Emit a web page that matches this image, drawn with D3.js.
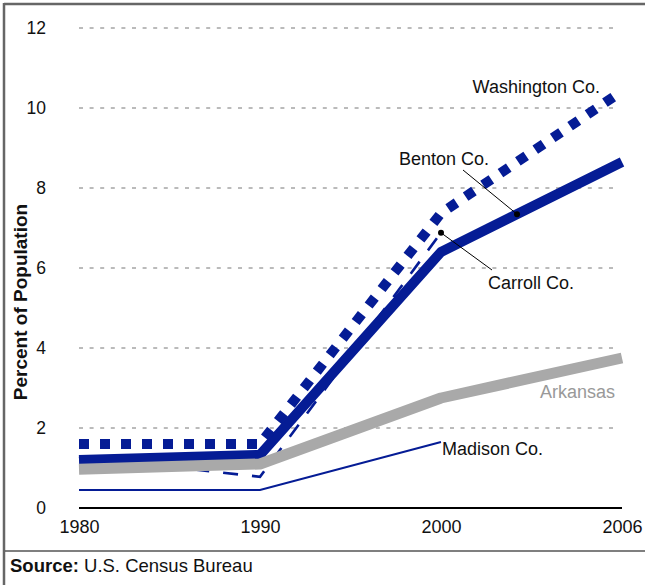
<!DOCTYPE html>
<html>
<head>
<meta charset="utf-8">
<script src="https://cdn.jsdelivr.net/npm/d3@7"></script>
<style>
  body { margin: 0; background: #fff; }
  svg { display: block; font-family: "Liberation Sans", Arial, sans-serif; }
</style>
</head>
<body>
<svg id="chart"></svg>
<script>
const years = ["1980", "1990", "2000", "2006"];
const yTicks = [0, 2, 4, 6, 8, 10, 12];

const washington = [1.6, 1.6, 7.37, 10.42];
const benton = [1.2, 1.33, 6.4, 8.65];
const carroll = [1.28, 0.78, 6.88];
const arkansas = [0.97, 1.1, 2.75, 3.75];
const madison = [0.45, 0.45, 1.65];

const w = 645;
const h = 585;
const blue = "#051c95";
const grey = "#a9a9a9";

const svg = d3.select("#chart")
  .attr("width", w)
  .attr("height", h);

const xScale = d3.scalePoint()
  .domain(years)
  .range([79, 622]);

const yScale = d3.scaleLinear()
  .domain([0, 12])
  .range([508, 28]);

// frame
svg.append("line").attr("x1", 4).attr("x2", w).attr("y1", 4).attr("y2", 4)
  .attr("stroke", "#666").attr("stroke-width", 2.5);
svg.append("line").attr("x1", 4).attr("x2", 4).attr("y1", 3).attr("y2", h)
  .attr("stroke", "#666").attr("stroke-width", 2.5);
svg.append("line").attr("x1", 5).attr("x2", w).attr("y1", 551).attr("y2", 551)
  .attr("stroke", "#555").attr("stroke-width", 1.5);

// gridlines
svg.append("g")
  .selectAll("line")
  .data(yTicks.filter(d => d > 0))
  .enter()
  .append("line")
  .attr("x1", 79)
  .attr("x2", 618)
  .attr("y1", d => yScale(d))
  .attr("y2", d => yScale(d))
  .attr("stroke", "#777")
  .attr("stroke-width", 1)
  .attr("stroke-dasharray", "4,6.6");

// y axis labels
const yAxis = d3.axisLeft(yScale).tickValues(yTicks).tickSize(0).tickPadding(0);
const yg = svg.append("g")
  .attr("transform", "translate(46,0)")
  .call(yAxis);
yg.select(".domain").remove();
yg.selectAll("text")
  .attr("font-size", 17.5)
  .attr("fill", "#111")
  .attr("font-family", "'Liberation Sans', Arial, sans-serif");

// x axis labels
const xAxis = d3.axisBottom(xScale).tickSize(0).tickPadding(0);
const xg = svg.append("g")
  .attr("transform", "translate(0,520)")
  .call(xAxis);
xg.select(".domain").remove();
xg.selectAll("text")
  .attr("font-size", 18)
  .attr("fill", "#111")
  .attr("font-family", "'Liberation Sans', Arial, sans-serif");

// zero line
svg.append("line")
  .attr("x1", 79).attr("x2", 622)
  .attr("y1", yScale(0)).attr("y2", yScale(0))
  .attr("stroke", "#000").attr("stroke-width", 2);

const line = d3.line()
  .x((d, i) => xScale(years[i]))
  .y(d => yScale(d));

svg.append("path").datum(madison).attr("d", line)
  .attr("fill", "none").attr("stroke", blue).attr("stroke-width", 2);

svg.append("path").datum(carroll).attr("d", line)
  .attr("fill", "none").attr("stroke", blue).attr("stroke-width", 2.6)
  .attr("stroke-dasharray", "15,14");

svg.append("path").datum(benton).attr("d", line)
  .attr("fill", "none").attr("stroke", blue).attr("stroke-width", 10)
  .attr("stroke-linejoin", "round");

svg.append("path").datum(arkansas).attr("d", line)
  .attr("fill", "none").attr("stroke", grey).attr("stroke-width", 11)
  .attr("stroke-linejoin", "round");

svg.append("path").datum(washington).attr("d", line)
  .attr("fill", "none").attr("stroke", blue).attr("stroke-width", 10)
  .attr("stroke-dasharray", "10,11");

// series labels
const labels = [
  { text: "Washington Co.", x: 600, y: 93, anchor: "end", color: "#111" },
  { text: "Benton Co.", x: 399, y: 165, anchor: "start", color: "#111" },
  { text: "Carroll Co.", x: 488, y: 289, anchor: "start", color: "#111" },
  { text: "Arkansas", x: 615, y: 398, anchor: "end", color: "#999" },
  { text: "Madison Co.", x: 442, y: 455, anchor: "start", color: "#111" }
];
svg.append("g")
  .selectAll("text")
  .data(labels)
  .enter()
  .append("text")
  .attr("x", d => d.x)
  .attr("y", d => d.y)
  .attr("text-anchor", d => d.anchor)
  .attr("fill", d => d.color)
  .attr("font-size", 18)
  .text(d => d.text);

// leader lines
const bx = xScale("2000") + (xScale("2006") - xScale("2000")) * 0.42;
const by = yScale(benton[2] + (benton[3] - benton[2]) * 0.42);
const cx = xScale("2000");
const cy = yScale(carroll[2]);
const leaders = [
  { x1: 463, y1: 170, x2: bx, y2: by },
  { x1: 492, y1: 270, x2: cx, y2: cy }
];
svg.append("g")
  .selectAll("line")
  .data(leaders)
  .enter()
  .append("line")
  .attr("x1", d => d.x1).attr("y1", d => d.y1)
  .attr("x2", d => d.x2).attr("y2", d => d.y2)
  .attr("stroke", "#000").attr("stroke-width", 1);
svg.append("g")
  .selectAll("circle")
  .data(leaders)
  .enter()
  .append("circle")
  .attr("cx", d => d.x2).attr("cy", d => d.y2)
  .attr("r", 3).attr("fill", "#000");

// y title
svg.append("text")
  .attr("transform", "translate(27,302) rotate(-90)")
  .attr("text-anchor", "middle")
  .attr("font-size", 19)
  .attr("font-weight", "bold")
  .attr("fill", "#111")
  .text("Percent of Population");

// source
const src = svg.append("text")
  .attr("x", 10)
  .attr("y", 572)
  .attr("font-size", 18.5)
  .attr("fill", "#111");
src.append("tspan").attr("font-weight", "bold").text("Source:");
src.append("tspan").text(" U.S. Census Bureau");
</script>
</body>
</html>
